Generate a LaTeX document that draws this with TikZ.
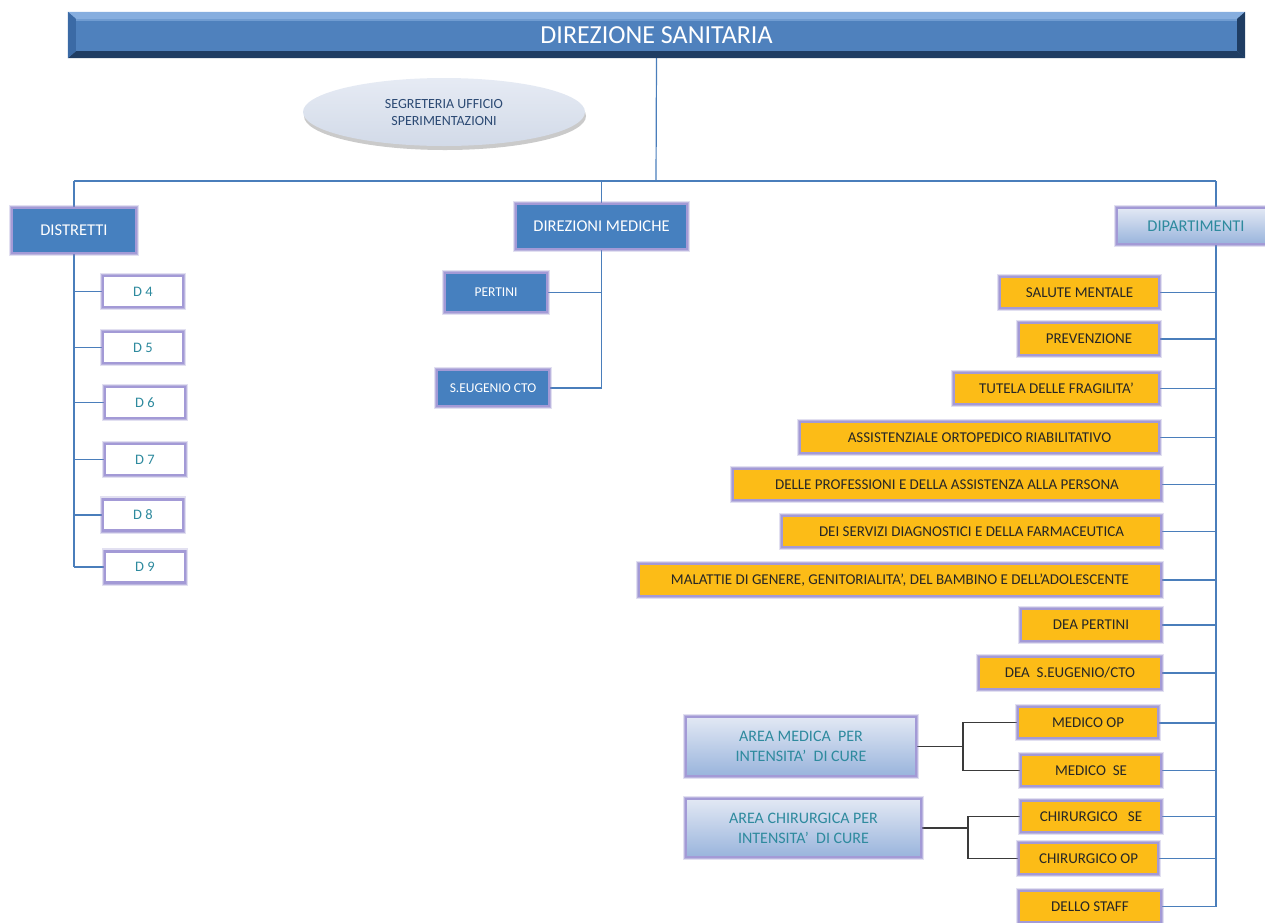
\documentclass[tikz,border=0pt]{standalone}
\usepackage{fontspec}
\setmainfont{Carlito}
\usetikzlibrary{calc,shadows,backgrounds,shapes.geometric}

\definecolor{barblue}{HTML}{4F81BD}
\definecolor{barlight}{HTML}{86AEDF}
\definecolor{bardark}{HTML}{1F3D63}
\definecolor{barmid}{HTML}{3B6AA5}
\definecolor{boxblue}{HTML}{4680BF}
\definecolor{glowc}{HTML}{8C82C8}
\definecolor{edgec}{HTML}{A39AD6}
\definecolor{tealtxt}{HTML}{2E8A9E}
\definecolor{orng}{HTML}{FCBC17}
\definecolor{darktxt}{HTML}{262626}
\definecolor{linkblue}{HTML}{4A7EBB}
\definecolor{linkdark}{HTML}{3A3A3A}
\definecolor{paletop}{HTML}{E2E8F4}
\definecolor{palebot}{HTML}{99B4DC}
\definecolor{elltop}{HTML}{E6EBF4}
\definecolor{ellbot}{HTML}{D2DAE8}
\definecolor{elltxt}{HTML}{2C4A74}

\tikzset{
  glow/.style={
    preaction={draw=glowc, line width=6.5pt, opacity=0.25},
    preaction={draw=glowc, line width=4pt, opacity=0.45},
    draw=edgec, line width=2.2pt},
  bluebox/.style={glow, fill=boxblue, text=white, inner sep=0pt, align=center},
  whitebox/.style={glow, fill=white, text=tealtxt, inner sep=0pt,
    minimum width=80, minimum height=31, font=\fontsize{14.5}{16}\selectfont},
  palebox/.style={glow, top color=paletop, bottom color=palebot, text=tealtxt,
    inner sep=0pt, align=center, font=\fontsize{16}{20}\selectfont},
  orangebox/.style={glow, fill=orng, text=darktxt, inner sep=0pt,
    minimum height=31, font=\fontsize{15}{17}\selectfont},
  bline/.style={draw=linkblue, line width=1.2pt},
  bthick/.style={draw=linkblue, line width=2pt},
  kline/.style={draw=linkdark, line width=1.4pt},
}

\begin{document}
\begin{tikzpicture}[x=1pt, y=-1pt]
\useasboundingbox (0,0) rectangle (1265,922);

% --- top bar with bevelled edges
\node[fill=barblue, minimum width=1177, minimum height=46, inner sep=0pt] (top) at (656.5,35) {};
\fill[barlight] (top.north west) -- (top.north east) -- ($(top.north east)+(-8,7)$) -- ($(top.north west)+(8,7)$) -- cycle;
\fill[bardark] (top.south west) -- (top.south east) -- ($(top.south east)+(-8,-7)$) -- ($(top.south west)+(8,-7)$) -- cycle;
\fill[barmid] (top.north west) -- ($(top.north west)+(8,7)$) -- ($(top.south west)+(8,-7)$) -- (top.south west) -- cycle;
\fill[bardark] (top.north east) -- ($(top.north east)+(-8,7)$) -- ($(top.south east)+(-8,-7)$) -- (top.south east) -- cycle;
\fill[barlight!60!barblue] ($(top.north west)+(8,7)$) rectangle ($(top.north east)+(-8,9)$);
\node[text=white, font=\fontsize{26}{29}\selectfont] (toptext) at (top.center) {DIREZIONE SANITARIA};

% --- secretariat ellipse
\node[ellipse, minimum width=282, minimum height=68, top color=elltop, bottom color=ellbot,
      drop shadow={shadow xshift=1pt, shadow yshift=-4pt, opacity=0.35, fill=black!60},
      text=elltxt, align=center, font=\fontsize{14}{17}\selectfont] (seg) at (444,112)
      {SEGRETERIA UFFICIO\\SPERIMENTAZIONI};

% --- first-level boxes
\node[bluebox, minimum width=124, minimum height=45, font=\fontsize{16.5}{19}\selectfont] (dist) at (74,230.5) {DISTRETTI};
\node[bluebox, minimum width=171, minimum height=45, font=\fontsize{16.5}{19}\selectfont] (dirmed) at (601.5,226.5) {DIREZIONI MEDICHE};
\node[palebox, minimum width=158, minimum height=36, font=\fontsize{16.5}{19}\selectfont] (dip) at (1196,226) {DIPARTIMENTI};

% --- districts
\node[whitebox] (d4) at (143,291.5) {D 4};
\node[whitebox] (d5) at (143,347.5) {D 5};
\node[whitebox] (d6) at (145,402.5) {D 6};
\node[whitebox] (d7) at (145,459.5) {D 7};
\node[whitebox] (d8) at (143,515) {D 8};
\node[whitebox] (d9) at (145,567) {D 9};

% --- medical directions
\node[bluebox, minimum width=102, minimum height=39, font=\fontsize{13.5}{16}\selectfont] (pert) at (496,292.5) {PERTINI};
\node[bluebox, minimum width=112, minimum height=36, font=\fontsize{13.5}{16}\selectfont] (seug) at (493,388) {S.EUGENIO CTO};

% --- departments
\node[orangebox, minimum width=159] (o1) at (1079.5,292.5) {SALUTE MENTALE};
\node[orangebox, minimum width=140, minimum height=32] (o2) at (1089,339) {PREVENZIONE};
\node[orangebox, minimum width=205] (o3) at (1056.5,388.5) {TUTELA DELLE FRAGILITA’};
\node[orangebox, minimum width=359] (o4) at (979.5,437.5) {ASSISTENZIALE ORTOPEDICO RIABILITATIVO};
\node[orangebox, minimum width=428] (o5) at (947,484.5) {DELLE PROFESSIONI E DELLA ASSISTENZA ALLA PERSONA};
\node[orangebox, minimum width=379] (o6) at (971.5,531.5) {DEI SERVIZI DIAGNOSTICI E DELLA FARMACEUTICA};
\node[orangebox, minimum width=522, minimum height=32] (o7) at (900,580) {MALATTIE DI GENERE, GENITORIALITA’, DEL BAMBINO E DELL’ADOLESCENTE};
\node[orangebox, minimum width=140, minimum height=32] (o8) at (1091,625) {DEA PERTINI};
\node[orangebox, minimum width=182, minimum height=32] (o9) at (1070,673) {DEA \ S.EUGENIO/CTO};
\node[orangebox, minimum width=140] (o10) at (1088,722.5) {MEDICO OP};
\node[orangebox, minimum width=140] (o11) at (1091,770.5) {MEDICO \ SE};
\node[orangebox, minimum width=140] (o12) at (1091,816.5) {CHIRURGICO \ \ SE};
\node[orangebox, minimum width=139] (o13) at (1088.5,858.5) {CHIRURGICO OP};
\node[orangebox, minimum width=142] (o14) at (1090,906.5) {DELLO STAFF};

% --- intensity-of-care areas
\node[palebox, minimum width=230, minimum height=59] (am) at (801,746.5) {AREA MEDICA \ PER\\INTENSITA’ \ DI CURE};
\node[palebox, minimum width=235, minimum height=58] (ac) at (803.5,828) {AREA CHIRURGICA PER\\INTENSITA’ \ DI CURE};

% --- connectors
\coordinate (busL) at (74,181);
\coordinate (busR) at (1216,181);
\coordinate (hub) at (656,181);
\coordinate (amj) at ($(am.east)+(46,0)$);
\coordinate (acj) at ($(ac.east)+(46,0)$);

\begin{pgfonlayer}{background}
  \draw[bline] (top.south) -- (hub);
  \draw[bline] (busL) -- (busR);
  % districts
  \draw[bline] (busL) -- (dist.north);
  \draw[bline] (dist.south) -- (dist.south |- d9.west);
  \foreach \d in {d4,d5,d6,d7,d8,d9}
    \draw[bline] (dist.south |- \d.west) -- (\d.west);
  % medical directions
  \draw[bline] (dirmed.north |- busL) -- (dirmed.north);
  \draw[bline] (dirmed.south) -- (dirmed.south |- seug.east) -- (seug.east);
  \draw[bline] (dirmed.south |- pert.east) -- (pert.east);
  % departments
  \draw[bline] (busR) -- (busR |- o14.east);
  \foreach \o in {o1,o2,o3,o4,o5,o6,o9,o11,o12,o13,o14}
    \draw[bline] (\o.east) -- (busR |- \o.east);
  \foreach \o in {o7,o8,o10}
    \draw[bthick] (\o.east) -- (busR |- \o.east);
  % area brackets
  \draw[kline] (am.east) -- (amj);
  \draw[kline] (o10.west) -- (amj |- o10.west) -- (amj |- o11.west) -- (o11.west);
  \draw[kline] (ac.east) -- (acj);
  \draw[kline] (o12.west) -- (acj |- o12.west) -- (acj |- o13.west) -- (o13.west);
\end{pgfonlayer}
\end{tikzpicture}
\end{document}
